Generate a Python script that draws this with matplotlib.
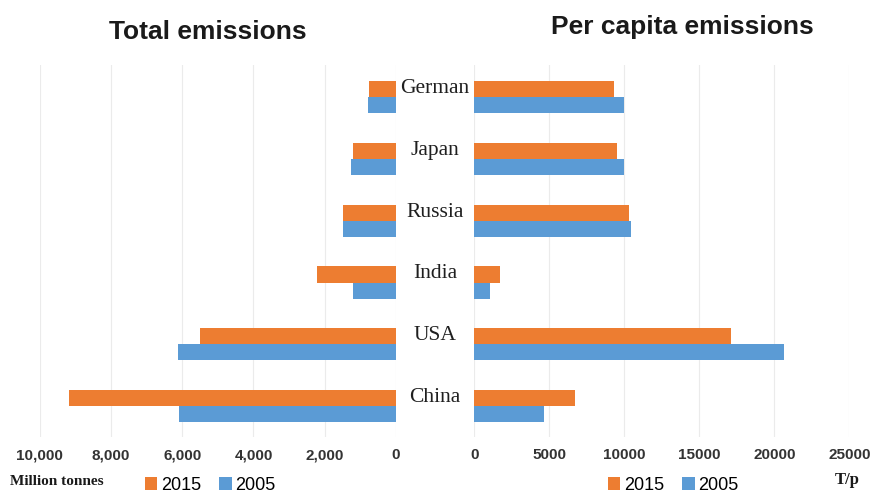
import matplotlib
matplotlib.use("Agg")
import matplotlib.pyplot as plt
import matplotlib.transforms as mtrans
from matplotlib.ticker import FuncFormatter
import numpy as np

countries = ["China", "USA", "India", "Russia", "Japan", "German"]
total_2015 = [9170, 5490, 2210, 1500, 1200, 750]
total_2005 = [6080, 6120, 1200, 1500, 1270, 800]
percap_2015 = [6690, 17110, 1690, 10310, 9530, 9310]
percap_2005 = [4650, 20670, 1050, 10420, 10000, 10000]
total_ticks = [10000, 8000, 6000, 4000, 2000, 0]
percap_ticks = [0, 5000, 10000, 15000, 20000, 25000]

orange = "#ED7D31"
blue = "#5B9BD5"
grid_c = "#EBEBEB"
h = 0.26

fig = plt.figure(figsize=(8.74, 4.94), dpi=100)
ax1 = fig.add_axes([0.0452, 0.1154, 0.408, 0.753])
ax2 = fig.add_axes([0.5427, 0.1154, 0.429, 0.753])

y = np.arange(len(countries))
b1 = ax1.barh(y + h / 2, total_2015, height=h, color=orange, label="2015", zorder=3)
b2 = ax1.barh(y - h / 2, total_2005, height=h, color=blue, label="2005", zorder=3)
ax2.barh(y + h / 2, percap_2015, height=h, color=orange, label="2015", zorder=3)
ax2.barh(y - h / 2, percap_2005, height=h, color=blue, label="2005", zorder=3)

ax1.set_xlim(10000, 0)
ax1.set_xticks(total_ticks)
ax1.xaxis.set_major_formatter(FuncFormatter(lambda v, p: f"{int(v):,}"))
ax2.set_xlim(0, 25000)
ax2.set_xticks(percap_ticks)

for ax in (ax1, ax2):
    ax.set_ylim(-0.5, 5.52)
    ax.set_yticks([])
    for s in ax.spines.values():
        s.set_visible(False)
    ax.grid(axis="x", color=grid_c, linewidth=0.8, zorder=0)
    ax.tick_params(axis="x", length=0, pad=8, labelsize=11, labelcolor="#333333")
    for lab in ax.get_xticklabels():
        lab.set_family("Liberation Sans")
        lab.set_fontweight("bold")

# country names between the two panels
tr = mtrans.blended_transform_factory(fig.transFigure, ax1.transData)
for i, c in enumerate(countries):
    ax1.text(435 / 874, i + h / 2 + 0.01, c, transform=tr, ha="center", va="center",
             family="Liberation Serif", fontsize=15.5, color="#1f1f1f")

fig.text(208 / 874, 1 - 32 / 494, "Total emissions", ha="center", va="center",
         family="Liberation Sans", fontweight="bold", fontsize=19, color="#1a1a1a")
fig.text(682 / 874, 1 - 27 / 494, "Per capita emissions", ha="center", va="center",
         family="Liberation Sans", fontweight="bold", fontsize=19, color="#1a1a1a")

fig.text(10 / 874, 1 - 481 / 494, "Million tonnes", ha="left", va="center",
         family="Liberation Serif", fontweight="bold", fontsize=11, color="#1a1a1a")
fig.text(847 / 874, 1 - 480 / 494, "T/p", ha="center", va="center",
         family="Liberation Serif", fontweight="bold", fontsize=12, color="#1a1a1a")

leg_kw = dict(loc="center", ncol=2, frameon=False, handlelength=0.7, handleheight=0.7,
              handletextpad=0.2, columnspacing=1.0,
              prop={"family": "Liberation Sans", "size": 13})
fig.legend(handles=[b1, b2], bbox_to_anchor=(210 / 874, 1 - 485 / 494), **leg_kw)
fig.legend(handles=[b1, b2], bbox_to_anchor=(673 / 874, 1 - 485 / 494), **leg_kw)

fig.savefig("out.png", dpi=100)
